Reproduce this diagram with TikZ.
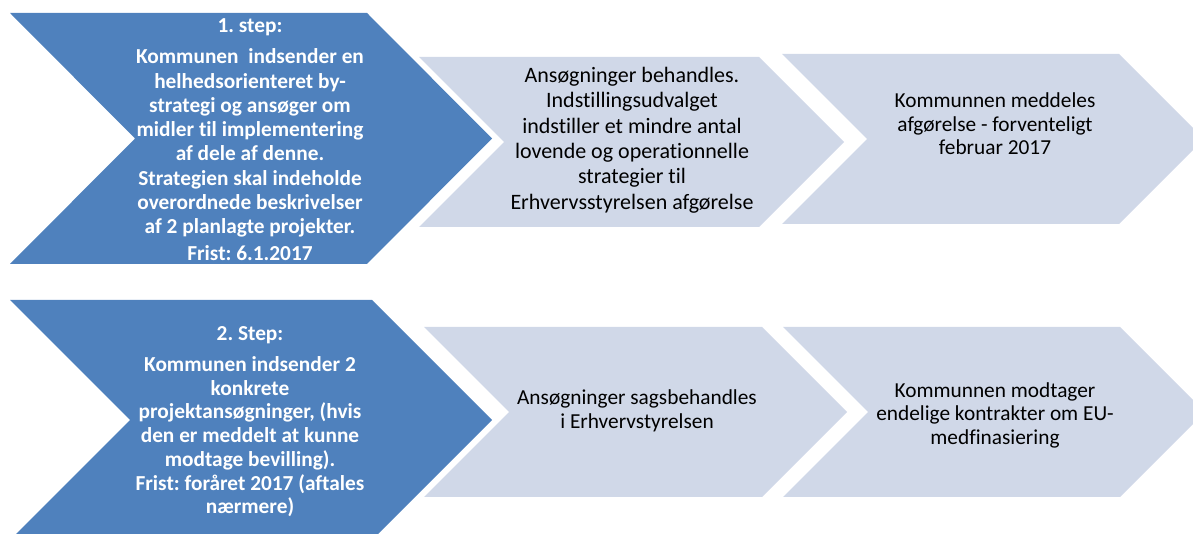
\documentclass[tikz,border=0pt]{standalone}
\usepackage{fontspec}
\setmainfont{Carlito}[Ligatures=NoCommon]
\usepackage{tikz}
\frenchspacing
\definecolor{stepblue}{HTML}{4F81BD}
\definecolor{stepgrey}{HTML}{D0D8E8}
\tikzstyle{bluetxt} = [text=white, align=center, inner sep=0pt,
    font=\bfseries\fontsize{16}{18.2}\selectfont]
\tikzstyle{greytxt} = [text=black, align=center, inner sep=0pt,
    font=\fontsize{16}{17.6}\selectfont]
% chevron: colour, left, top, right corner, bottom, depth of point
\newcommand{\chevron}[6]{%
  \fill[#1] (#2,#3) -- (#4,#3) -- ({#4+#6},{(#3+#5)/2}) -- (#4,#5)
    -- (#2,#5) -- ({#2+#6},{(#3+#5)/2}) -- cycle;}

\begin{document}
\begin{tikzpicture}[x=0.75pt,y=-0.75pt]
  \useasboundingbox (0,0) rectangle (1193,534);
  \clip (0,0) rectangle (1193,534);

  % first row
  \chevron{stepblue}{10}{13}{367}{264}{125}
  \chevron{stepgrey}{419}{57}{759}{227}{85}
  \chevron{stepgrey}{782}{54}{1119}{224}{85}

  % second row
  \chevron{stepblue}{10}{300}{372}{540}{120}
  \chevron{stepgrey}{424}{327}{762}{497}{85}
  \chevron{stepgrey}{783}{327}{1120}{497}{85}

  \node[bluetxt] (step1) at (250,140) {1. step:\\[5pt]
    Kommunen\ \ indsender en\\ helhedsorienteret by-\\ strategi og ansøger om\\
    midler til implementering\\ af dele af denne.\\ Strategien skal indeholde\\
    overordnede beskrivelser\\ af 2 planlagte projekter.\\[2pt] Frist: 6.1.2017};
  \node[greytxt, font=\fontsize{16.5}{19}\selectfont] (beh1) at (632,140)
    {Ansøgninger behandles.\\ Indstillingsudvalget\\ indstiller et mindre antal\\
    lovende og operationnelle\\ strategier til\\ Erhvervsstyrelsen afgørelse};
  \node[greytxt] (afg1) at (995,124)
    {Kommunnen meddeles\\ afgørelse - forventeligt\\ februar 2017};

  \node[bluetxt, font=\bfseries\fontsize{16}{17.8}\selectfont] (step2) at (250,422)
    {2. Step:\\[5pt] Kommunen indsender 2\\ konkrete\\ projektansøgninger, (hvis\\
    den er meddelt at kunne\\ modtage bevilling).\\ Frist: foråret 2017 (aftales\\ nærmere)};
  \node[greytxt] (beh2) at (637,411)
    {Ansøgninger sagsbehandles\\ i Erhvervstyrelsen};
  \node[greytxt] (kontr2) at (995,415)
    {Kommunnen modtager\\ endelige kontrakter om EU-\\ medfinasiering};
\end{tikzpicture}
\end{document}
